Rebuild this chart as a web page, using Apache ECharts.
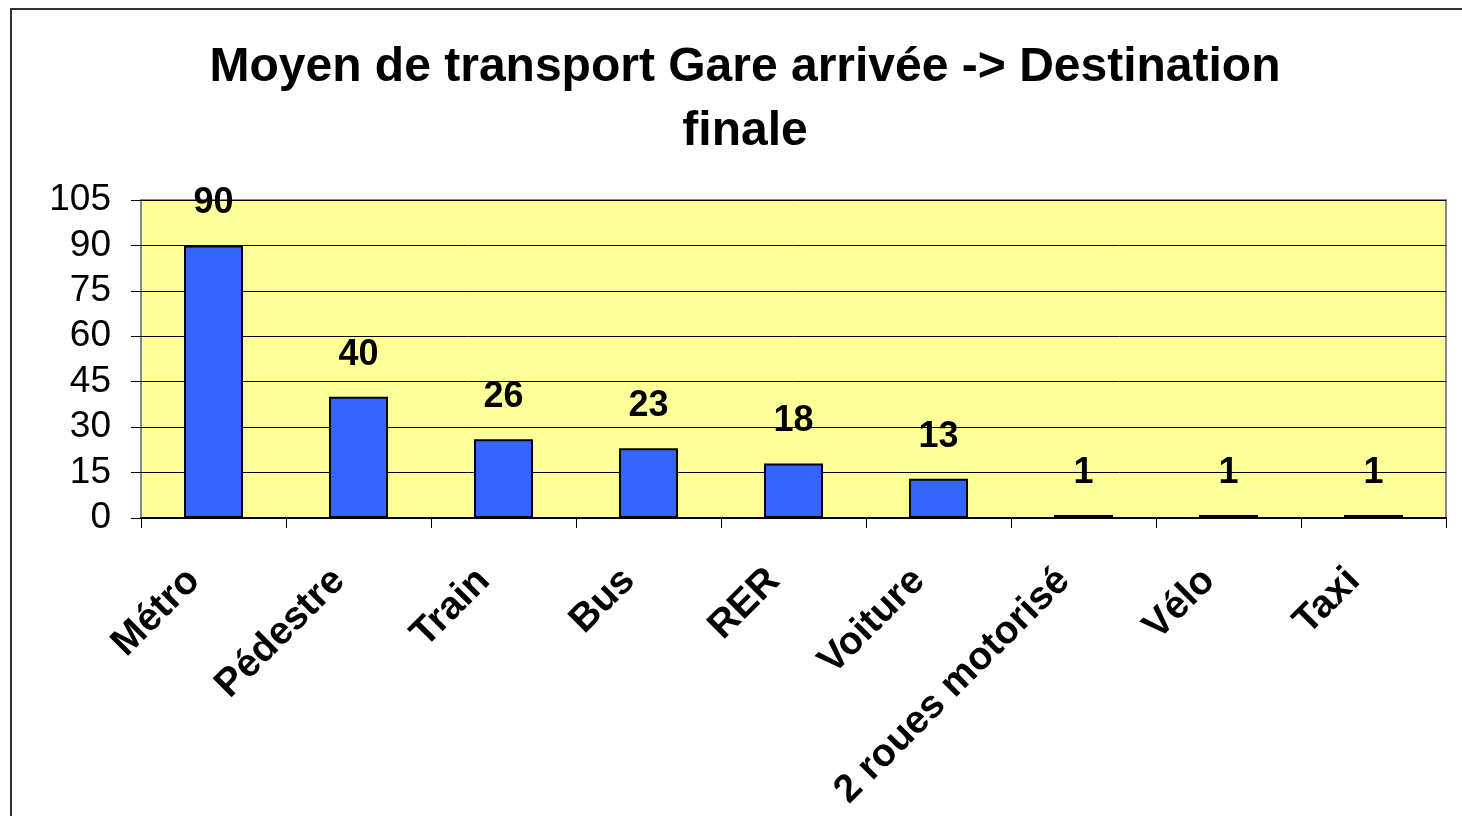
<!DOCTYPE html>
<html>
<head>
<meta charset="utf-8">
<script src="https://cdn.jsdelivr.net/npm/echarts@6/dist/echarts.min.js"></script>
<style>
  html, body { margin: 0; padding: 0; background: #fff; overflow: hidden; }
  #frame { position: absolute; left: 10px; top: 8px; width: 1500px; height: 900px; border: 2px solid #333; box-sizing: border-box; }
  #chartData { position: absolute; left: 0; top: 0; width: 1462px; height: 816px; }
</style>
</head>
<body>
<div id="frame"></div>
<div id="chartData"></div>
<script>
// categories and values
var categories = ['Métro', 'Pédestre', 'Train', 'Bus', 'RER', 'Voiture', '2 roues motorisé', 'Vélo', 'Taxi'];
var values = [90, 40, 26, 23, 18, 13, 1, 1, 1];
var titleLines = ['Moyen de transport Gare arrivée -> Destination', 'finale'];

var font = '"Liberation Sans", Arial, sans-serif';

var myChart = echarts.init(document.getElementById('chartData'), null, { renderer: 'canvas' });

var option = {
    animation: false,
    graphic: [
        { type: 'text', x: 745, y: 68, style: { text: titleLines[0], font: 'bold 48px ' + font, fill: '#000', align: 'center', verticalAlign: 'middle' } },
        { type: 'text', x: 745, y: 132, style: { text: titleLines[1], font: 'bold 48px ' + font, fill: '#000', align: 'center', verticalAlign: 'middle' } }
    ],
    grid: {
        left: 141, right: 16, top: 200, bottom: 298,
        show: true,
        backgroundColor: '#FFFF99',
        borderColor: '#888',
        borderWidth: 2
    },
    xAxis: {
        type: 'category',
        data: categories,
        axisLine: { lineStyle: { color: '#000', width: 2 } },
        axisTick: { show: true, length: 10, lineStyle: { color: '#000', width: 1 } },
        axisLabel: {
            interval: 0,
            rotate: 45,
            margin: 37,
            padding: [0, 28, 0, 0],
            color: '#000',
            fontFamily: font,
            fontWeight: 'bold',
            fontSize: 39
        }
    },
    yAxis: {
        type: 'value',
        min: 0, max: 105, interval: 15,
        axisLine: { show: false },
        axisTick: { show: true, length: 10, lineStyle: { color: '#000' } },
        axisLabel: { margin: 30, color: '#000', fontFamily: font, fontSize: 37 },
        splitLine: { lineStyle: { color: '#000', width: 1 } }
    },
    series: [{
        type: 'bar',
        data: values,
        barWidth: 59,
        itemStyle: { color: '#3366FF', borderColor: '#000', borderWidth: 2 },
        label: {
            show: true,
            position: 'top',
            distance: 24,
            color: '#000',
            fontFamily: font,
            fontWeight: 'bold',
            fontSize: 36
        }
    }]
};

myChart.setOption(option);
</script>
</body>
</html>
